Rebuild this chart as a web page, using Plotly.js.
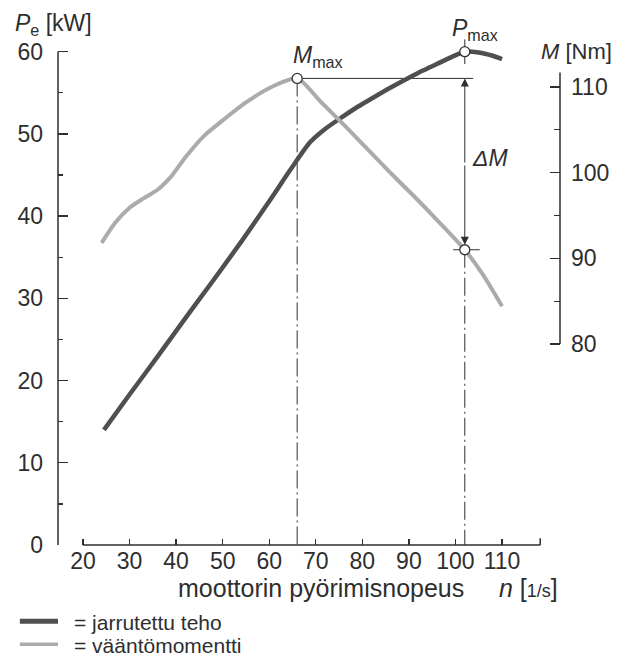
<!DOCTYPE html>
<html>
<head>
<meta charset="utf-8">
<script src="https://cdn.plot.ly/plotly-3.0.1.min.js"></script>
<style>html,body{margin:0;padding:0;background:#fff;}#chart{width:617px;height:657px;}</style>
</head>
<body>
<div id="chart"></div>
<script>
// ---- data ----
const speedPower = [24.5, 30, 36, 42, 48, 54, 60, 64.5, 68.8, 72, 75.8, 79, 82.3, 86, 89.6, 93, 96, 99, 102, 105, 108, 110];
const powerKW    = [14, 18.3, 22.9, 27.6, 32.2, 36.9, 41.8, 45.6, 49.0, 50.6, 52.1, 53.3, 54.4, 55.6, 56.7, 57.7, 58.5, 59.3, 60, 59.9, 59.5, 59.1];
const speedTorque = [24, 27, 30, 33, 36, 39, 42, 46, 50, 55, 60.5, 66, 71, 76, 81, 86, 91, 96, 102, 106, 110];
const torqueNm    = [91.8, 94.2, 95.9, 97.0, 98.0, 99.6, 101.8, 104.3, 106.1, 108.2, 110.0, 111.0, 108.3, 105.6, 102.8, 100.0, 97.3, 94.5, 91.0, 88.0, 84.4];
const nMmax = 66, Mmax = 111;
const nPmax = 102, Pmax = 60, M_atPmax = 91;
const xTickVals = [20, 30, 40, 50, 60, 70, 80, 90, 100, 110];
const powerTickVals = [0, 10, 20, 30, 40, 50, 60];
const powerMinorTicks = [5, 15, 25, 35, 45, 55];
const torqueTickVals = [80, 90, 100, 110];
const torqueMinorTicks = [85, 95, 105];
const legendNames = ["= jarrutettu teho", "= vääntömomentti"];

// ---- styling ----
const FONT = "Liberation Sans, Arial, Helvetica, sans-serif";
const TXT = "#2e2e2e";
const DARK = "#4f4f4f";
const LIGHT = "#ababab";
const xRange = [14.63, 122.45];
const yRange = [0, 63];
const y2Range = [56.54, 117.0];

const traces = [
  {x: speedTorque, y: torqueNm, yaxis: "y2", mode: "lines", name: legendNames[1],
   line: {color: LIGHT, width: 4, shape: "spline", smoothing: 0.7}, showlegend: false, hoverinfo: "skip"},
  {x: speedPower, y: powerKW, yaxis: "y", mode: "lines", name: legendNames[0],
   line: {color: DARK, width: 4.5, shape: "spline", smoothing: 0.7}, showlegend: false, hoverinfo: "skip"},
  {x: [nMmax, nPmax], y: [Mmax, M_atPmax], yaxis: "y2", mode: "markers", showlegend: false,
   marker: {size: 10, color: "#fff", line: {color: "#333", width: 1.3}}},
  {x: [nPmax], y: [Pmax], yaxis: "y", mode: "markers", showlegend: false,
   marker: {size: 10, color: "#fff", line: {color: "#333", width: 1.3}}}
];

const dashdot = "18px,4px,2px,4px";
const shapes = [
  // left axis line
  {type: "line", xref: "paper", yref: "y", x0: 0, x1: 0, y0: 0, y1: 60, line: {color: TXT, width: 1.5}},
  // x axis line
  {type: "line", xref: "x", yref: "paper", x0: 20, x1: 118.2, y0: 0, y1: 0, line: {color: TXT, width: 1.5}},
  {type: "line", xref: "x", yref: "paper", x0: 118.2, x1: 118.2, y0: 0, y1: 0.013, line: {color: TXT, width: 1.5}},
  // right axis line
  {type: "line", xref: "paper", yref: "y2", x0: 1, x1: 1, y0: 80, y1: 111.7, line: {color: TXT, width: 1.5}},
  // Mmax horizontal
  {type: "line", xref: "x", yref: "y2", x0: nMmax, x1: 103.8, y0: Mmax, y1: Mmax, line: {color: TXT, width: 1}, layer: "below"},
  // dash-dot verticals
  {type: "line", xref: "x", yref: "y2", x0: nMmax, x1: nMmax, y0: Mmax, y1: y2Range[0], line: {color: TXT, width: 1, dash: dashdot}, layer: "below"},
  {type: "line", xref: "x", yref: "y2", x0: nPmax, x1: nPmax, y0: M_atPmax, y1: y2Range[0], line: {color: TXT, width: 1, dash: dashdot}, layer: "below"},
  // crosshairs
  {type: "line", xref: "x", yref: "y", x0: nPmax, x1: nPmax, y0: 58.5, y1: 61.5, line: {color: TXT, width: 1}, layer: "below"},
  {type: "line", xref: "x", yref: "y2", x0: 99.5, x1: 105.2, y0: M_atPmax, y1: M_atPmax, line: {color: TXT, width: 1}, layer: "below"},
  // legend samples
  {type: "line", xref: "paper", yref: "paper", x0: -0.076, x1: 0, y0: -0.147, y1: -0.147, line: {color: DARK, width: 5}},
  {type: "line", xref: "paper", yref: "paper", x0: -0.076, x1: 0, y0: -0.1915, y1: -0.1915, line: {color: LIGHT, width: 3.5}}
];

const annFont = {family: FONT, size: 23, color: TXT};
const annotations = [
  {xref: "paper", yref: "paper", x: -0.0896, y: 1.004, xanchor: "left", yanchor: "middle", showarrow: false,
   text: "<i>P</i><sub>e</sub> [kW]", font: annFont},
  {xref: "paper", yref: "paper", x: 1.108, y: 0.952, xanchor: "right", yanchor: "middle", showarrow: false,
   text: "<i>M</i> [Nm]", font: {family: FONT, size: 22, color: TXT}},
  {xref: "x", yref: "y2", x: 70.5, y: 113.5, xanchor: "center", yanchor: "middle", showarrow: false,
   text: "<i>M</i><sub>max</sub>", font: annFont},
  {xref: "paper", yref: "paper", x: 0.83, y: 0.995, xanchor: "center", yanchor: "middle", showarrow: false,
   text: "<i>P</i><sub>max</sub>", font: annFont},
  {xref: "x", yref: "y2", x: 107.4, y: 101.7, xanchor: "center", yanchor: "middle", showarrow: false,
   text: "<i>ΔM</i>", font: annFont},
  // ΔM arrows
  {xref: "x", yref: "y2", axref: "x", ayref: "y2", x: nPmax, y: Mmax, ax: nPmax, ay: 101, text: "",
   showarrow: true, arrowhead: 2, arrowsize: 1.6, arrowwidth: 1, arrowcolor: TXT},
  {xref: "x", yref: "y2", axref: "x", ayref: "y2", x: nPmax, y: M_atPmax, ax: nPmax, ay: 101, text: "",
   showarrow: true, arrowhead: 2, arrowsize: 1.6, arrowwidth: 1, arrowcolor: TXT, standoff: 5},
  // x axis title
  {xref: "paper", yref: "paper", x: 1, y: -0.083, xanchor: "right", yanchor: "middle", showarrow: false,
   text: "moottorin pyörimisnopeus\u00a0\u00a0\u00a0\u00a0\u00a0<i>n</i> [<span style='font-size:18px'>1/s</span>]",
   font: {family: FONT, size: 25, color: TXT}},
  // legend texts
  {xref: "paper", yref: "paper", x: 0.028, y: -0.149, xanchor: "left", yanchor: "middle", showarrow: false,
   text: legendNames[0], font: {family: FONT, size: 21, color: TXT}},
  {xref: "paper", yref: "paper", x: 0.028, y: -0.1935, xanchor: "left", yanchor: "middle", showarrow: false,
   text: legendNames[1], font: {family: FONT, size: 21, color: TXT}}
];

const tickFont = {family: FONT, size: 23, color: TXT};
const layout = {
  width: 617, height: 657,
  margin: {l: 58, r: 57, t: 27, b: 112, pad: 0},
  paper_bgcolor: "#fff", plot_bgcolor: "#fff",
  showlegend: false,
  font: {family: FONT, color: TXT},
  xaxis: {range: xRange, showgrid: false, zeroline: false, showline: false,
    tickmode: "array", tickvals: xTickVals, ticks: "inside", ticklen: 6, tickwidth: 1.3, tickcolor: TXT,
    tickfont: tickFont, ticklabelstandoff: 0},
  yaxis: {range: yRange, showgrid: false, zeroline: false, showline: false,
    tickmode: "array", tickvals: powerTickVals, ticks: "inside", ticklen: 10, tickwidth: 1.3, tickcolor: TXT,
    minor: {tickmode: "array", tickvals: powerMinorTicks, ticks: "inside", ticklen: 5, tickwidth: 1.3, tickcolor: TXT, showgrid: false},
    tickfont: tickFont, ticklabelstandoff: 14},
  yaxis2: {range: y2Range, overlaying: "y", side: "right", anchor: "x", showgrid: false, zeroline: false, showline: false,
    tickmode: "array", tickvals: torqueTickVals, ticks: "inside", ticklen: 10, tickwidth: 1.3, tickcolor: TXT,
    minor: {tickmode: "array", tickvals: torqueMinorTicks, ticks: "inside", ticklen: 6, tickwidth: 1.3, tickcolor: TXT, showgrid: false},
    tickfont: tickFont, ticklabelstandoff: 10},
  shapes: shapes,
  annotations: annotations
};

Plotly.newPlot("chart", traces, layout, {staticPlot: true, displayModeBar: false});
</script>
</body>
</html>
